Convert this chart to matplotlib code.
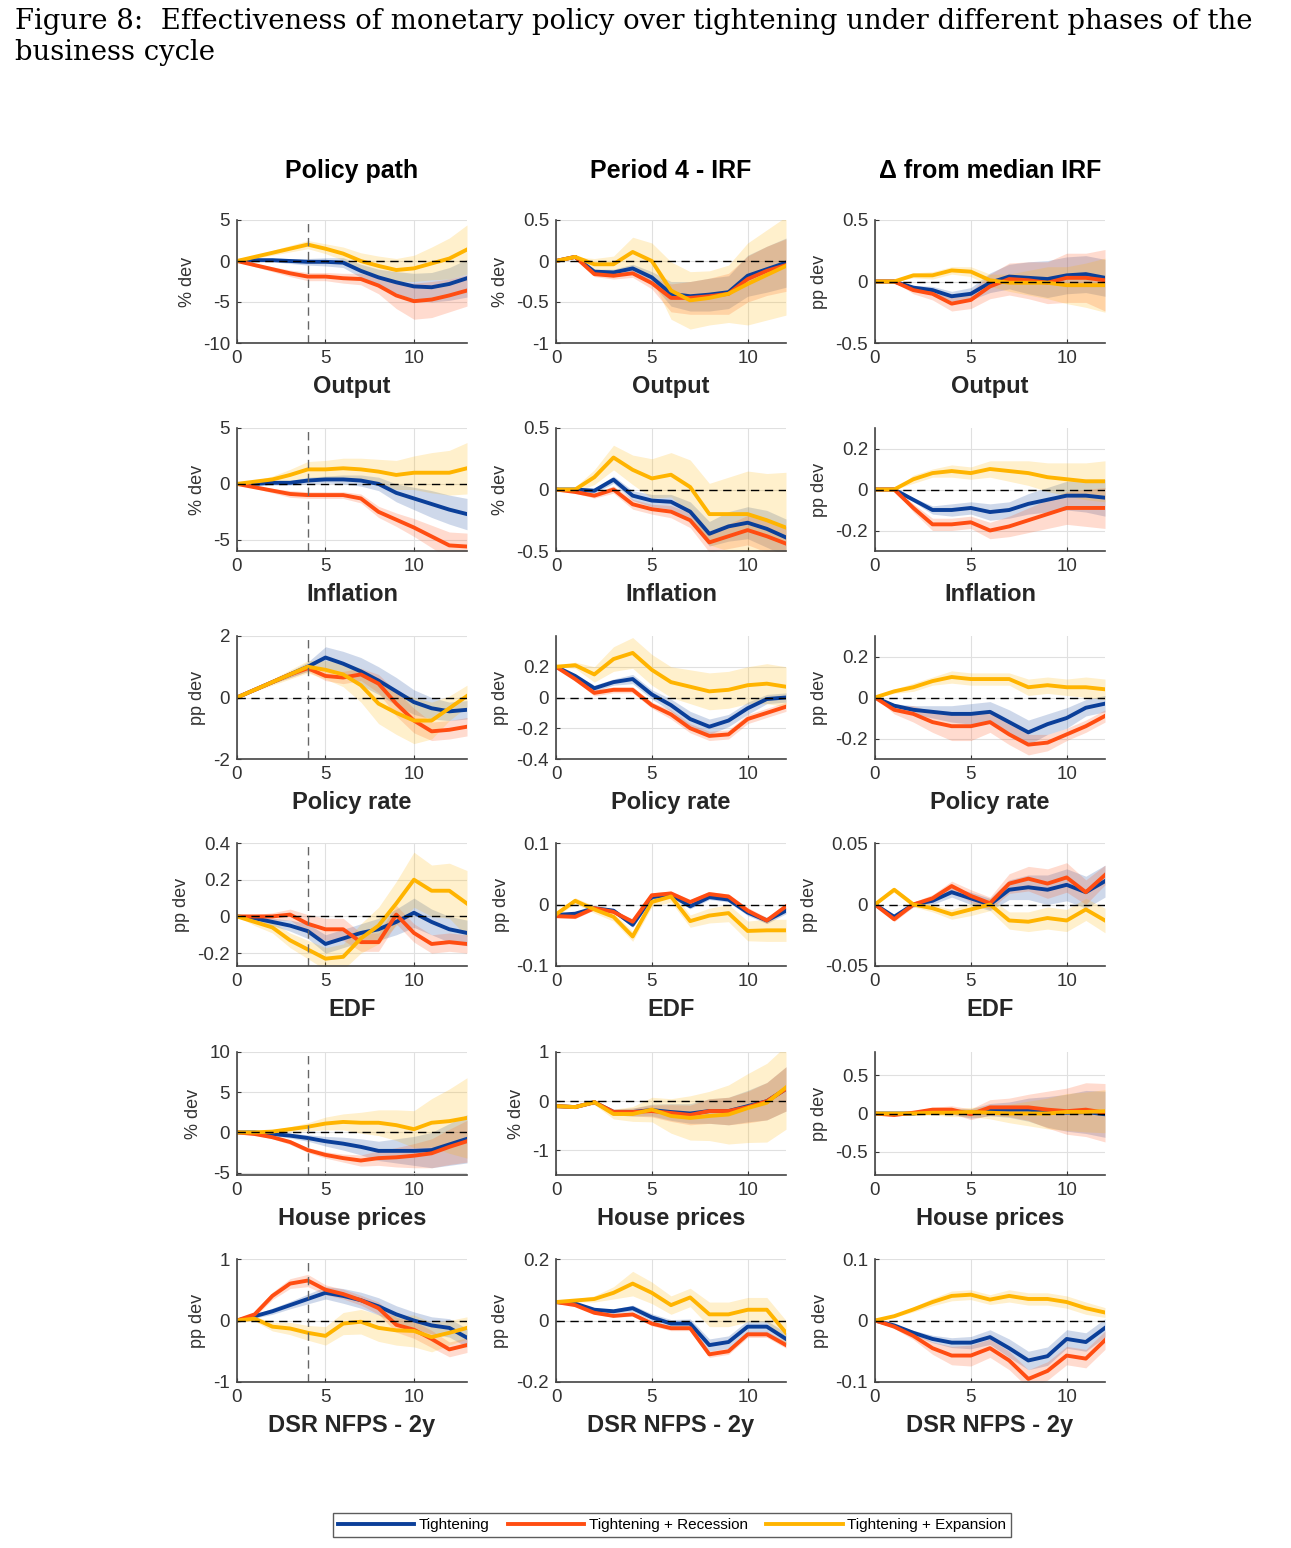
import numpy as np
import matplotlib.pyplot as plt
from matplotlib.ticker import FuncFormatter

# ---- data: columns p = policy path, i = period 4 IRF, d = delta from median IRF
# each series: T = Tightening, R = + Recession, E = + Expansion; *_w = band half width

# Output
p_out_T = [0, 0.1, 0.1, 0, -0.1, -0.1, -0.2, -1.2, -2, -2.6, -3.1, -3.2, -2.8, -2.1]
p_out_R = [0, -0.5, -1, -1.5, -1.9, -1.9, -2.1, -2.2, -3, -4.2, -4.9, -4.7, -4.2, -3.6]
p_out_E = [0, 0.5, 1, 1.5, 2, 1.5, 0.9, 0, -0.6, -1.1, -0.9, -0.3, 0.3, 1.4]
p_out_T_w = [0, 0.1, 0.2, 0.3, 0.4, 0.5, 0.6, 0.8, 1, 1.3, 1.6, 1.8, 2, 2.3]
p_out_R_w = [0, 0.2, 0.3, 0.4, 0.5, 0.5, 0.6, 0.7, 1, 1.6, 2.2, 2.2, 2, 1.9]
p_out_E_w = [0, 0.2, 0.3, 0.4, 0.5, 0.6, 0.8, 1, 1.2, 1.4, 1.6, 2, 2.5, 3]

i_out_T = [0, 0.05, -0.13, -0.14, -0.09, -0.2, -0.4, -0.43, -0.41, -0.38, -0.18, -0.1, -0.02]
i_out_R = [0, 0.05, -0.16, -0.18, -0.15, -0.27, -0.45, -0.45, -0.43, -0.4, -0.22, -0.12, -0.05]
i_out_E = [0, 0.05, -0.04, -0.04, 0.11, 0, -0.36, -0.48, -0.45, -0.4, -0.28, -0.17, -0.06]
i_out_T_w = [0, 0, 0.03, 0.04, 0.05, 0.07, 0.15, 0.18, 0.2, 0.2, 0.25, 0.28, 0.3]
i_out_R_w = [0, 0, 0.03, 0.04, 0.05, 0.07, 0.17, 0.2, 0.22, 0.25, 0.28, 0.3, 0.32]
i_out_E_w = [0, 0, 0.07, 0.1, 0.18, 0.22, 0.35, 0.35, 0.33, 0.35, 0.5, 0.55, 0.6]

d_out_T = [0, 0, -0.05, -0.07, -0.12, -0.1, -0.01, 0.04, 0.03, 0.02, 0.05, 0.06, 0.03]
d_out_R = [0, 0, -0.07, -0.1, -0.18, -0.15, -0.04, 0.02, 0.01, -0.01, 0.03, 0.03, 0.01]
d_out_E = [0, 0, 0.05, 0.05, 0.09, 0.08, 0.01, -0.01, -0.01, -0.01, -0.03, -0.03, -0.03]
d_out_T_w = [0, 0, 0.02, 0.03, 0.04, 0.05, 0.08, 0.1, 0.13, 0.15, 0.15, 0.15, 0.15]
d_out_R_w = [0, 0, 0.03, 0.05, 0.06, 0.07, 0.1, 0.13, 0.15, 0.17, 0.2, 0.2, 0.25]
d_out_E_w = [0, 0, 0.02, 0.03, 0.03, 0.04, 0.05, 0.07, 0.1, 0.13, 0.15, 0.18, 0.22]

# Inflation
p_inf_T = [0, 0, 0.1, 0.1, 0.3, 0.4, 0.4, 0.3, 0, -0.8, -1.3, -1.8, -2.3, -2.7]
p_inf_R = [0, -0.3, -0.6, -0.9, -1, -1, -1, -1.3, -2.5, -3.2, -3.9, -4.7, -5.5, -5.6]
p_inf_E = [0, 0.2, 0.4, 0.8, 1.3, 1.3, 1.4, 1.3, 1.1, 0.8, 1, 1, 1, 1.4]
p_inf_T_w = [0, 0.1, 0.2, 0.2, 0.3, 0.3, 0.4, 0.5, 0.6, 0.8, 1, 1.2, 1.3, 1.4]
p_inf_R_w = [0, 0.1, 0.2, 0.3, 0.3, 0.3, 0.3, 0.4, 0.5, 0.6, 0.8, 1, 1.2, 1.2]
p_inf_E_w = [0, 0.1, 0.3, 0.5, 0.7, 0.8, 0.9, 1, 1.1, 1.3, 1.5, 1.8, 2, 2.3]

i_inf_T = [0, 0, -0.01, 0.08, -0.05, -0.09, -0.1, -0.18, -0.36, -0.3, -0.27, -0.32, -0.39]
i_inf_R = [0, -0.02, -0.05, 0, -0.12, -0.16, -0.18, -0.25, -0.43, -0.38, -0.33, -0.38, -0.44]
i_inf_E = [0, 0, 0.1, 0.26, 0.16, 0.09, 0.12, 0.02, -0.2, -0.2, -0.2, -0.25, -0.31]
i_inf_T_w = [0, 0.01, 0.02, 0.03, 0.04, 0.05, 0.06, 0.08, 0.1, 0.12, 0.13, 0.15, 0.15]
i_inf_R_w = [0, 0.01, 0.02, 0.03, 0.04, 0.04, 0.05, 0.06, 0.08, 0.1, 0.12, 0.13, 0.14]
i_inf_E_w = [0, 0.02, 0.06, 0.1, 0.12, 0.16, 0.18, 0.22, 0.25, 0.3, 0.35, 0.38, 0.45]

d_inf_T = [0, 0, -0.05, -0.1, -0.1, -0.09, -0.11, -0.1, -0.07, -0.05, -0.03, -0.03, -0.04]
d_inf_R = [0, 0, -0.09, -0.17, -0.17, -0.16, -0.2, -0.18, -0.15, -0.12, -0.09, -0.09, -0.09]
d_inf_E = [0, 0, 0.05, 0.08, 0.09, 0.08, 0.1, 0.09, 0.08, 0.06, 0.05, 0.04, 0.04]
d_inf_T_w = [0, 0, 0.01, 0.02, 0.03, 0.03, 0.04, 0.04, 0.05, 0.06, 0.07, 0.08, 0.09]
d_inf_R_w = [0, 0, 0.02, 0.03, 0.03, 0.03, 0.04, 0.05, 0.06, 0.07, 0.08, 0.09, 0.1]
d_inf_E_w = [0, 0, 0.02, 0.02, 0.03, 0.03, 0.04, 0.05, 0.06, 0.07, 0.08, 0.09, 0.1]

# Policy rate
p_pol_T = [0, 0.25, 0.5, 0.75, 1, 1.3, 1.1, 0.85, 0.55, 0.2, -0.15, -0.35, -0.45, -0.4]
p_pol_R = [0, 0.25, 0.5, 0.75, 0.95, 0.7, 0.65, 0.75, 0.45, -0.2, -0.75, -1.1, -1.05, -0.95]
p_pol_E = [0, 0.25, 0.5, 0.75, 1, 0.9, 0.75, 0.4, -0.2, -0.5, -0.75, -0.75, -0.35, 0.05]
p_pol_T_w = [0, 0.02, 0.05, 0.1, 0.15, 0.35, 0.4, 0.45, 0.45, 0.45, 0.4, 0.35, 0.3, 0.3]
p_pol_R_w = [0, 0.02, 0.05, 0.1, 0.1, 0.15, 0.2, 0.2, 0.3, 0.4, 0.4, 0.3, 0.3, 0.3]
p_pol_E_w = [0, 0.05, 0.1, 0.15, 0.2, 0.3, 0.4, 0.55, 0.65, 0.7, 0.75, 0.6, 0.4, 0.35]

i_pol_T = [0.2, 0.14, 0.06, 0.1, 0.12, 0.02, -0.05, -0.14, -0.19, -0.15, -0.07, -0.01, 0]
i_pol_R = [0.2, 0.12, 0.03, 0.05, 0.05, -0.05, -0.11, -0.2, -0.25, -0.24, -0.14, -0.1, -0.06]
i_pol_E = [0.2, 0.21, 0.15, 0.25, 0.29, 0.18, 0.1, 0.07, 0.04, 0.05, 0.08, 0.09, 0.07]
i_pol_T_w = [0, 0.01, 0.02, 0.02, 0.03, 0.03, 0.04, 0.05, 0.05, 0.04, 0.04, 0.03, 0.03]
i_pol_R_w = [0, 0.01, 0.02, 0.02, 0.02, 0.02, 0.03, 0.03, 0.03, 0.03, 0.03, 0.03, 0.03]
i_pol_E_w = [0, 0.02, 0.05, 0.08, 0.1, 0.1, 0.1, 0.11, 0.12, 0.12, 0.12, 0.13, 0.13]

d_pol_T = [0, -0.04, -0.06, -0.07, -0.08, -0.08, -0.07, -0.12, -0.17, -0.13, -0.1, -0.05, -0.03]
d_pol_R = [0, -0.06, -0.08, -0.12, -0.14, -0.14, -0.12, -0.18, -0.23, -0.22, -0.18, -0.14, -0.09]
d_pol_E = [0, 0.03, 0.05, 0.08, 0.1, 0.09, 0.09, 0.09, 0.05, 0.06, 0.05, 0.05, 0.04]
d_pol_T_w = [0, 0.01, 0.02, 0.03, 0.04, 0.05, 0.05, 0.06, 0.06, 0.05, 0.05, 0.04, 0.04]
d_pol_R_w = [0, 0.02, 0.04, 0.05, 0.07, 0.07, 0.05, 0.05, 0.05, 0.04, 0.03, 0.03, 0.03]
d_pol_E_w = [0, 0.01, 0.02, 0.02, 0.03, 0.03, 0.03, 0.03, 0.04, 0.04, 0.04, 0.05, 0.05]

# EDF
p_edf_T = [0, -0.01, -0.03, -0.05, -0.08, -0.15, -0.12, -0.09, -0.07, -0.03, 0.02, -0.03, -0.07, -0.09]
p_edf_R = [0, 0, 0, 0.01, -0.04, -0.07, -0.07, -0.14, -0.14, 0.01, -0.09, -0.15, -0.14, -0.15]
p_edf_E = [0, -0.03, -0.06, -0.13, -0.18, -0.23, -0.22, -0.12, -0.05, 0.07, 0.2, 0.14, 0.14, 0.07]
p_edf_T_w = [0, 0.01, 0.02, 0.03, 0.04, 0.05, 0.05, 0.05, 0.06, 0.07, 0.08, 0.07, 0.07, 0.07]
p_edf_R_w = [0, 0.01, 0.02, 0.03, 0.05, 0.06, 0.06, 0.05, 0.05, 0.05, 0.05, 0.05, 0.05, 0.05]
p_edf_E_w = [0, 0.02, 0.03, 0.04, 0.05, 0.06, 0.07, 0.08, 0.1, 0.12, 0.15, 0.14, 0.15, 0.18]

i_edf_T = [-0.017, -0.015, -0.006, -0.01, -0.033, 0.012, 0.016, -0.003, 0.012, 0.008, -0.013, -0.026, -0.01]
i_edf_R = [-0.019, -0.02, -0.006, -0.012, -0.028, 0.015, 0.018, 0.004, 0.017, 0.013, -0.01, -0.026, -0.003]
i_edf_E = [-0.016, 0.006, -0.008, -0.02, -0.052, 0.004, 0.013, -0.027, -0.018, -0.014, -0.043, -0.042, -0.042]
i_edf_T_w = [0.002, 0.003, 0.003, 0.003, 0.004, 0.004, 0.004, 0.004, 0.004, 0.004, 0.005, 0.005, 0.005]
i_edf_R_w = [0.002, 0.003, 0.003, 0.003, 0.004, 0.004, 0.004, 0.004, 0.004, 0.004, 0.005, 0.005, 0.005]
i_edf_E_w = [0.003, 0.005, 0.006, 0.007, 0.008, 0.008, 0.009, 0.01, 0.012, 0.014, 0.016, 0.018, 0.018]

d_edf_T = [0, -0.01, 0, 0.003, 0.01, 0.005, 0, 0.012, 0.014, 0.012, 0.016, 0.01, 0.019]
d_edf_R = [0, -0.012, 0, 0.005, 0.015, 0.007, 0.001, 0.017, 0.021, 0.017, 0.022, 0.01, 0.024]
d_edf_E = [0, 0.012, 0, -0.003, -0.008, -0.004, 0, -0.013, -0.014, -0.011, -0.013, -0.004, -0.013]
d_edf_T_w = [0, 0.002, 0.002, 0.003, 0.004, 0.005, 0.005, 0.008, 0.01, 0.012, 0.013, 0.013, 0.013]
d_edf_R_w = [0, 0.002, 0.002, 0.003, 0.004, 0.005, 0.005, 0.008, 0.01, 0.012, 0.012, 0.01, 0.008]
d_edf_E_w = [0, 0.002, 0.002, 0.003, 0.004, 0.005, 0.005, 0.007, 0.008, 0.009, 0.009, 0.009, 0.01]

# House prices
p_hp_T = [0, 0, -0.2, -0.4, -0.7, -1.1, -1.4, -1.8, -2.3, -2.3, -2.3, -2.2, -1.5, -0.8]
p_hp_R = [0, -0.2, -0.6, -1.2, -2.2, -2.8, -3.2, -3.5, -3.2, -3.1, -2.9, -2.6, -1.8, -1.1]
p_hp_E = [0, 0, 0.1, 0.4, 0.7, 1.1, 1.3, 1.2, 1.2, 0.9, 0.4, 1.2, 1.4, 1.8]
p_hp_T_w = [0, 0.1, 0.2, 0.3, 0.4, 0.6, 0.8, 1, 1.2, 1.5, 1.8, 2.2, 2.6, 3]
p_hp_R_w = [0, 0.1, 0.2, 0.3, 0.3, 0.4, 0.5, 0.7, 0.9, 1.2, 1.5, 1.8, 2.2, 2.6]
p_hp_E_w = [0, 0.1, 0.2, 0.3, 0.5, 0.8, 1, 1.3, 1.6, 1.9, 2.3, 3, 4, 5]

i_hp_T = [-0.1, -0.12, -0.02, -0.22, -0.22, -0.18, -0.22, -0.25, -0.2, -0.2, -0.1, 0, 0.25]
i_hp_R = [-0.1, -0.12, -0.02, -0.22, -0.22, -0.2, -0.24, -0.28, -0.2, -0.2, -0.12, 0, 0.25]
i_hp_E = [-0.1, -0.12, -0.02, -0.26, -0.26, -0.17, -0.3, -0.34, -0.3, -0.27, -0.14, -0.03, 0.28]
i_hp_T_w = [0, 0.02, 0.03, 0.06, 0.08, 0.12, 0.17, 0.2, 0.25, 0.28, 0.32, 0.38, 0.45]
i_hp_R_w = [0, 0.02, 0.03, 0.06, 0.08, 0.12, 0.17, 0.2, 0.25, 0.28, 0.32, 0.38, 0.45]
i_hp_E_w = [0, 0.03, 0.05, 0.1, 0.15, 0.25, 0.35, 0.45, 0.5, 0.6, 0.7, 0.8, 0.85]

d_hp_T = [0, 0, 0, 0.03, 0.03, 0, 0.05, 0.05, 0.05, 0.02, 0.01, 0.02, -0.01]
d_hp_R = [0, -0.02, 0.01, 0.05, 0.05, -0.01, 0.08, 0.08, 0.08, 0.05, 0.03, 0.05, 0.01]
d_hp_E = [0, 0, 0, 0.01, 0.01, 0.02, 0.01, 0, 0, 0, 0.02, 0.02, 0.03]
d_hp_T_w = [0, 0.01, 0.02, 0.03, 0.04, 0.06, 0.08, 0.1, 0.15, 0.2, 0.24, 0.28, 0.3]
d_hp_R_w = [0, 0.01, 0.02, 0.03, 0.05, 0.07, 0.1, 0.12, 0.17, 0.24, 0.3, 0.35, 0.38]
d_hp_E_w = [0, 0.01, 0.02, 0.03, 0.05, 0.06, 0.08, 0.12, 0.16, 0.2, 0.24, 0.26, 0.28]

# DSR NFPS - 2y
p_dsr_T = [0, 0.07, 0.15, 0.25, 0.35, 0.45, 0.4, 0.33, 0.23, 0.1, 0, -0.08, -0.12, -0.28]
p_dsr_R = [0, 0.1, 0.4, 0.6, 0.65, 0.5, 0.43, 0.33, 0.2, -0.07, -0.15, -0.3, -0.47, -0.4]
p_dsr_E = [0, 0.03, -0.1, -0.13, -0.2, -0.25, -0.05, -0.02, -0.12, -0.16, -0.17, -0.27, -0.2, -0.12]
p_dsr_T_w = [0, 0.03, 0.05, 0.06, 0.08, 0.1, 0.12, 0.13, 0.14, 0.14, 0.14, 0.14, 0.15, 0.15]
p_dsr_R_w = [0, 0.04, 0.06, 0.08, 0.1, 0.08, 0.08, 0.08, 0.1, 0.12, 0.14, 0.14, 0.12, 0.12]
p_dsr_E_w = [0, 0.04, 0.07, 0.1, 0.12, 0.15, 0.18, 0.2, 0.22, 0.24, 0.26, 0.24, 0.2, 0.18]

i_dsr_T = [0.06, 0.055, 0.035, 0.03, 0.04, 0.01, -0.01, -0.01, -0.08, -0.07, -0.02, -0.02, -0.06]
i_dsr_R = [0.06, 0.05, 0.025, 0.015, 0.02, -0.01, -0.025, -0.025, -0.11, -0.1, -0.045, -0.045, -0.08]
i_dsr_E = [0.06, 0.065, 0.07, 0.09, 0.12, 0.09, 0.05, 0.075, 0.02, 0.02, 0.035, 0.035, -0.04]
i_dsr_T_w = [0, 0.003, 0.005, 0.007, 0.01, 0.012, 0.013, 0.015, 0.02, 0.02, 0.02, 0.02, 0.02]
i_dsr_R_w = [0, 0.003, 0.004, 0.005, 0.006, 0.007, 0.008, 0.008, 0.01, 0.01, 0.01, 0.01, 0.01]
i_dsr_E_w = [0, 0.005, 0.01, 0.02, 0.04, 0.035, 0.03, 0.03, 0.04, 0.04, 0.04, 0.04, 0.04]

d_dsr_T = [0, -0.008, -0.02, -0.03, -0.036, -0.036, -0.027, -0.045, -0.065, -0.058, -0.03, -0.035, -0.012]
d_dsr_R = [0, -0.01, -0.025, -0.045, -0.057, -0.057, -0.045, -0.065, -0.095, -0.082, -0.057, -0.062, -0.032]
d_dsr_E = [0, 0.007, 0.018, 0.03, 0.04, 0.042, 0.034, 0.04, 0.035, 0.035, 0.03, 0.02, 0.013]
d_dsr_T_w = [0, 0.002, 0.004, 0.006, 0.008, 0.01, 0.012, 0.015, 0.015, 0.015, 0.015, 0.015, 0.015]
d_dsr_R_w = [0, 0.003, 0.006, 0.01, 0.015, 0.017, 0.015, 0.015, 0.015, 0.015, 0.015, 0.015, 0.015]
d_dsr_E_w = [0, 0.002, 0.004, 0.006, 0.008, 0.008, 0.008, 0.01, 0.01, 0.01, 0.01, 0.01, 0.008]

col_titles = ['Policy path', 'Period 4 - IRF', '\u0394 from median IRF']
row_names = ['Output', 'Inflation', 'Policy rate', 'EDF', 'House prices', 'DSR NFPS - 2y']
series_names = ['Tightening', 'Tightening + Recession', 'Tightening + Expansion']
colors = ['#0b3f99', '#ff4d12', '#ffb400']

# y-axis settings per row/column
ylims = [
    [(-10, 5), (-1, 0.5), (-0.5, 0.5)],
    [(-6, 5), (-0.5, 0.5), (-0.3, 0.3)],
    [(-2, 2), (-0.4, 0.4), (-0.3, 0.3)],
    [(-0.27, 0.4), (-0.1, 0.1), (-0.05, 0.05)],
    [(-5.3, 10), (-1.5, 1), (-0.8, 0.8)],
    [(-1, 1), (-0.2, 0.2), (-0.1, 0.1)],
]
yticks = [
    [[-10, -5, 0, 5], [-1, -0.5, 0, 0.5], [-0.5, 0, 0.5]],
    [[-5, 0, 5], [-0.5, 0, 0.5], [-0.2, 0, 0.2]],
    [[-2, 0, 2], [-0.4, -0.2, 0, 0.2], [-0.2, 0, 0.2]],
    [[-0.2, 0, 0.2, 0.4], [-0.1, 0, 0.1], [-0.05, 0, 0.05]],
    [[-5, 0, 5, 10], [-1, 0, 1], [-0.5, 0, 0.5]],
    [[-1, 0, 1], [-0.2, 0, 0.2], [-0.1, 0, 0.1]],
]
ylabels = [['% dev', '% dev', 'pp dev'], ['% dev', '% dev', 'pp dev'],
           ['pp dev', 'pp dev', 'pp dev'], ['pp dev', 'pp dev', 'pp dev'],
           ['% dev', '% dev', 'pp dev'], ['pp dev', 'pp dev', 'pp dev']]

g = globals()
rows = ['out', 'inf', 'pol', 'edf', 'hp', 'dsr']
cols = ['p', 'i', 'd']

W, H = 1291, 1548
fig = plt.figure(figsize=(W / 100, H / 100), dpi=100)
plt.rcParams['font.family'] = ['Liberation Sans', 'DejaVu Sans']

fig.text(15 / W, 1 - 8 / H, 'Figure 8:  Effectiveness of monetary policy over tightening under different phases of the\nbusiness cycle',
         family='DejaVu Serif', fontsize=19.8, va='top', ha='left', linespacing=1.2)

lefts = [237, 556, 875]
tops = [220, 428, 636, 843, 1052, 1259]
aw, ah = 230, 123

fmt = FuncFormatter(lambda v, _: '%g' % v)
for r, rk in enumerate(rows):
    for c, ck in enumerate(cols):
        ax = fig.add_axes([lefts[c] / W, 1 - (tops[r] + ah) / H, aw / W, ah / H])
        xmax = 13 if c == 0 else 12
        for s, sk in enumerate(['T', 'R', 'E']):
            y = np.array(g[f'{ck}_{rk}_{sk}'])
            w = np.array(g[f'{ck}_{rk}_{sk}_w'])
            x = np.arange(len(y))
            ax.fill_between(x, y - w, y + w, color=colors[s], alpha=0.2, lw=0)
        for s, sk in enumerate(['T', 'R', 'E']):
            y = np.array(g[f'{ck}_{rk}_{sk}'])
            ax.plot(np.arange(len(y)), y, color=colors[s], lw=2.8, label=series_names[s])
        ax.axhline(0, color='black', ls='--', lw=1, dashes=(6, 4))
        if c == 0:
            ax.axvline(4, color='#666666', ls='--', lw=1, dashes=(6, 4))
        ax.set_xlim(0, xmax)
        ax.set_ylim(*ylims[r][c])
        ax.set_xticks([0, 5, 10])
        ax.set_yticks(yticks[r][c])
        ax.yaxis.set_major_formatter(fmt)
        ax.grid(True, color='#e0e0e0', lw=0.8)
        ax.set_axisbelow(True)
        for sp in ['top', 'right']:
            ax.spines[sp].set_visible(False)
        for sp in ['left', 'bottom']:
            ax.spines[sp].set_color('#444444')
            ax.spines[sp].set_linewidth(1.2)
        ax.tick_params(direction='in', labelsize=13.5, colors='#333333', length=3, pad=5)
        ax.set_ylabel(ylabels[r][c], fontsize=13, color='#333333', labelpad=5)
        ax.set_xlabel(row_names[r], fontsize=17, fontweight='bold', color='#262626', labelpad=6)
        if r == 0:
            ax.set_title(col_titles[c], fontsize=18, fontweight='bold', pad=30)
        if r == 0 and c == 0:
            handles, labels = ax.get_legend_handles_labels()

fig.legend(handles, labels, loc='center', bbox_to_anchor=(672 / W, 1 - 1525 / H), ncol=3,
           fontsize=11, handlelength=5, frameon=True, fancybox=False, edgecolor='#333333',
           borderpad=0.3, columnspacing=1.2, handletextpad=0.3)

fig.savefig('out.png', dpi=100)
